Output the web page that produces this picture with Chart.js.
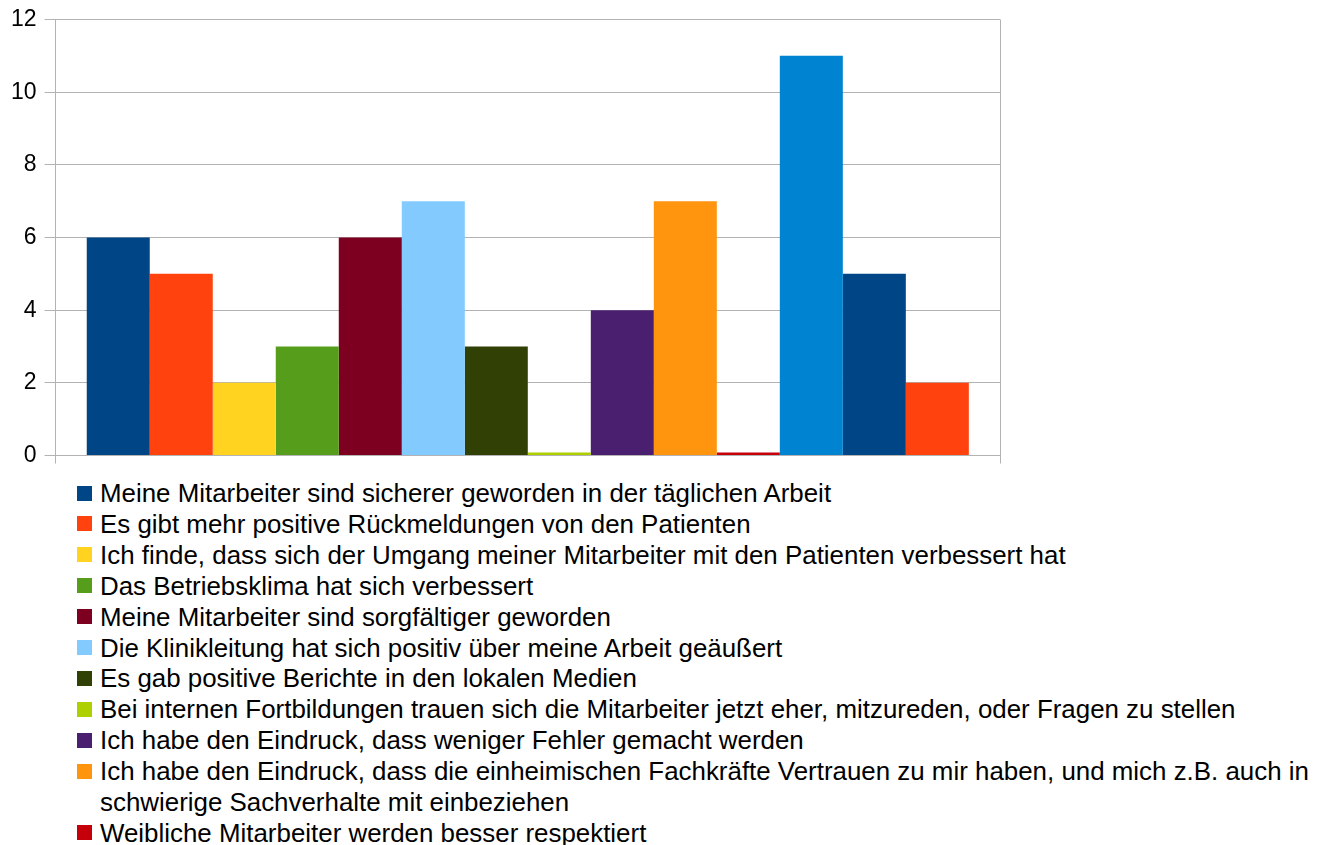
<!DOCTYPE html>
<html>
<head>
<meta charset="utf-8">
<script src="https://cdn.jsdelivr.net/npm/chart.js@4"></script>
<style>
  body { margin: 0; background: #fff; overflow: hidden; font-family: "Liberation Sans", Arial, sans-serif; }
  #wrap { position: relative; width: 1334px; height: 475px; }
  #legend { position: absolute; left: 77px; top: 478px; width: 1257px; font-size: 25.9px; line-height: 30.9px; color: #000; }
  .item { display: flex; align-items: flex-start; }
  .box { width: 15px; height: 15px; flex: none; margin-top: 7.5px; margin-right: 8px; }
  .txt { flex: 1; }
</style>
</head>
<body>
<div id="wrap"><canvas id="myChart"></canvas></div>
<div id="legend"></div>
<script>
const categories = [''];

const seriesLabels = [
  'Meine Mitarbeiter sind sicherer geworden in der täglichen Arbeit',
  'Es gibt mehr positive Rückmeldungen von den Patienten',
  'Ich finde, dass sich der Umgang meiner Mitarbeiter mit den Patienten verbessert hat',
  'Das Betriebsklima hat sich verbessert',
  'Meine Mitarbeiter sind sorgfältiger geworden',
  'Die Klinikleitung hat sich positiv über meine Arbeit geäußert',
  'Es gab positive Berichte in den lokalen Medien',
  'Bei internen Fortbildungen trauen sich die Mitarbeiter jetzt eher, mitzureden, oder Fragen zu stellen',
  'Ich habe den Eindruck, dass weniger Fehler gemacht werden',
  'Ich habe den Eindruck, dass die einheimischen Fachkräfte Vertrauen zu mir haben, und mich z.B. auch in schwierige Sachverhalte mit einbeziehen',
  'Weibliche Mitarbeiter werden besser respektiert',
  'Antwort 12',
  'Antwort 13',
  'Antwort 14'
];

const seriesValues = [6, 5, 2, 3, 6, 7, 3, 0, 4, 7, 0, 11, 5, 2];

const seriesColors = [
  '#004586', '#ff420e', '#ffd320', '#579d1c', '#7e0021', '#83caff', '#314004',
  '#aecf00', '#4b1f6f', '#ff950e', '#c5000b', '#0084d1', '#004586', '#ff420e'
];

const yTicks = [0, 2, 4, 6, 8, 10, 12];

const datasets = seriesLabels.map((lbl, i) => ({
  label: lbl,
  data: [seriesValues[i]],
  backgroundColor: seriesColors[i],
  borderWidth: 0,
  minBarLength: 3
}));

const config = {
  type: 'bar',
  data: { labels: categories, datasets: datasets },
  options: {
    responsive: true,
    maintainAspectRatio: false,
    animation: false,
    layout: {
      padding: { top: 4, left: 3, right: 334, bottom: 0 }
    },
    plugins: {
      legend: { display: false },
      tooltip: { enabled: false }
    },
    datasets: {
      bar: { barPercentage: 1, categoryPercentage: 0.934 }
    },
    scales: {
      x: {
        offset: true,
        grid: { offset: true, color: '#b3b3b3', tickLength: 8, drawTicks: true },
        border: { color: '#b3b3b3' },
        ticks: { display: false }
      },
      y: {
        min: yTicks[0],
        max: yTicks[yTicks.length - 1],
        afterBuildTicks: (axis) => { axis.ticks = yTicks.map(v => ({ value: v })); },
        grid: { color: '#b3b3b3', tickLength: 11 },
        border: { color: '#b3b3b3' },
        ticks: {
          padding: 8,
          color: '#000',
          font: { family: 'Liberation Sans', size: 23, lineHeight: 1.0 }
        }
      }
    }
  }
};

const myChart = new Chart(document.getElementById('myChart'), config);

// html legend, like LibreOffice puts it under the plot
const legendEl = document.getElementById('legend');
myChart.data.datasets.forEach(ds => {
  const row = document.createElement('div');
  row.className = 'item';
  const box = document.createElement('span');
  box.className = 'box';
  box.style.background = ds.backgroundColor;
  const txt = document.createElement('span');
  txt.className = 'txt';
  txt.textContent = ds.label;
  row.appendChild(box);
  row.appendChild(txt);
  legendEl.appendChild(row);
});
</script>
</body>
</html>
